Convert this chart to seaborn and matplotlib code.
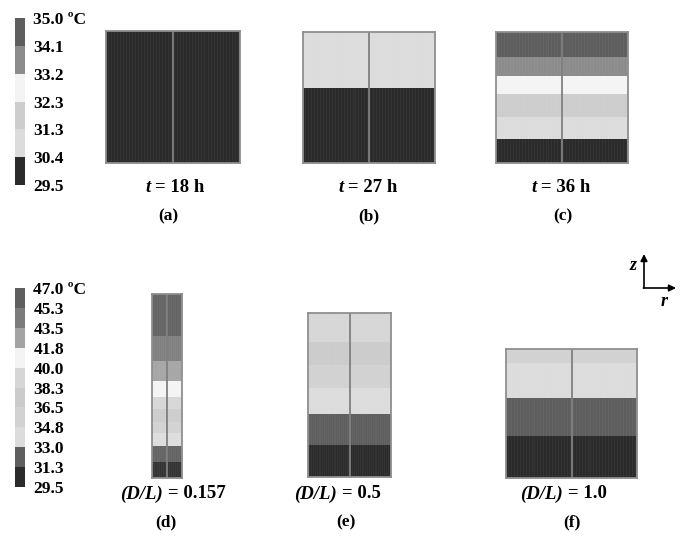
import numpy as np
import matplotlib
matplotlib.use("Agg")
import matplotlib.pyplot as plt
from matplotlib.colors import ListedColormap, BoundaryNorm
import seaborn as sns

W, H = 681, 549

# colour scale of the time series (top row), degC
top_bounds = [29.5, 30.4, 31.3, 32.3, 33.2, 34.1, 35.0]
top_colors = ["#2b2b2b", "#dcdcdc", "#cdcdcd", "#f4f4f4", "#8c8c8c", "#5e5e5e"]

# colour scale of the aspect ratio series (bottom row), degC
bot_bounds = [29.5, 31.3, 33.0, 34.8, 36.5, 38.3, 40.0, 41.8, 43.5, 45.3, 47.0]
bot_colors = ["#2b2b2b", "#5e5e5e", "#dcdcdc", "#d2d2d2", "#cbcbcb",
              "#d6d6d6", "#f4f4f4", "#a3a3a3", "#7b7b7b", "#5e5e5e"]

# zone temperatures (top -> bottom) and zone heights (relative units)
a_temp = [29.95]
a_h = [131]
b_temp = [30.85, 29.95]
b_h = [56, 75]
c_temp = [34.55, 33.65, 32.75, 31.8, 30.85, 29.95]
c_h = [25, 19, 18, 23, 22, 24]
d_temp = [46.15, 44.4, 42.65, 40.9, 39.15, 37.4, 35.65, 33.9, 32.15, 30.4]
d_h = [42, 25, 20, 16, 12, 13, 11, 13, 16, 16]
e_temp = [39.15, 37.4, 35.65, 33.9, 32.15, 30.4]
e_h = [29, 23, 23, 26, 31, 32]
f_temp = [35.65, 33.9, 32.15, 30.4]
f_h = [14, 35, 38, 42]

time_labels = ["18", "27", "36"]
ratio_labels = ["0.157", "0.5", "1.0"]
letters = ["(a)", "(b)", "(c)", "(d)", "(e)", "(f)"]

plt.rcParams["font.family"] = ["Liberation Serif", "DejaVu Serif"]
plt.rcParams["font.weight"] = "bold"


def px_axes(fig, x0, y0, x1, y1):
    """Add an axes from pixel box (top-left origin)."""
    return fig.add_axes([x0 / W, 1 - y1 / H, (x1 - x0) / W, (y1 - y0) / H])


def zone_grid(temps, heights):
    col = np.repeat(temps, heights)
    return np.column_stack([col, col])


def draw_panel(ax, temps, heights, cmap, norm, cax=None):
    grid = zone_grid(temps, heights)
    sns.heatmap(grid, ax=ax, cmap=cmap, norm=norm,
                cbar=cax is not None, cbar_ax=cax,
                xticklabels=False, yticklabels=False)
    # faint mesh texture of the FE grid
    ax.vlines(np.arange(0.03, 2, 0.045), 0, grid.shape[0],
              color="white", alpha=0.05, lw=0.6)
    ax.axvline(1, color="#808080", lw=1.3)
    for s in ax.spines.values():
        s.set_visible(True)
        s.set_color("#8f8f8f")
        s.set_linewidth(1.3)


def style_cbar(cax, bounds):
    labels = [f"{b:.1f}" for b in bounds]
    labels[-1] = labels[-1] + " ºC"
    cax.set_yticks(bounds)
    cax.set_yticklabels(labels)
    cax.tick_params(length=0, pad=6, labelsize=12.5)
    for lbl in cax.get_yticklabels():
        lbl.set_fontweight("bold")


fig = plt.figure(figsize=(W / 100, H / 100), dpi=100)
fig.patch.set_facecolor("white")

top_cmap = ListedColormap(top_colors)
top_norm = BoundaryNorm(top_bounds, top_cmap.N)
bot_cmap = ListedColormap(bot_colors)
bot_norm = BoundaryNorm(bot_bounds, bot_cmap.N)

cax_top = px_axes(fig, 15, 18, 25, 185)
cax_bot = px_axes(fig, 15, 288, 25, 487)

panels_top = [(106, 31, 240, 163), (303, 32, 435, 163), (496, 32, 628, 163)]
panels_bot = [(152, 294, 182, 478), (308, 313, 391, 477), (506, 349, 637, 478)]

top_data = [(a_temp, a_h), (b_temp, b_h), (c_temp, c_h)]
bot_data = [(d_temp, d_h), (e_temp, e_h), (f_temp, f_h)]

for i, (box, (t, h)) in enumerate(zip(panels_top, top_data)):
    ax = px_axes(fig, *box)
    draw_panel(ax, t, h, top_cmap, top_norm, cax_top if i == 0 else None)
for i, (box, (t, h)) in enumerate(zip(panels_bot, bot_data)):
    ax = px_axes(fig, *box)
    draw_panel(ax, t, h, bot_cmap, bot_norm, cax_bot if i == 0 else None)

style_cbar(cax_top, top_bounds)
style_cbar(cax_bot, bot_bounds)

# overlay in pixel coordinates for the annotations
ov = fig.add_axes([0, 0, 1, 1], facecolor="none")
ov.set_xlim(0, W)
ov.set_ylim(H, 0)
ov.axis("off")

fs = 13.5
top_centers = [176, 369, 562]
for xc, lab in zip(top_centers, time_labels):
    ov.text(xc - 25, 188, "t", style="italic", fontweight="bold",
            fontsize=fs, ha="right", va="center")
    ov.text(xc - 21, 188, f"= {lab} h", fontweight="bold",
            fontsize=fs, ha="left", va="center")

bot_splits = [163, 337, 563]
for xs, lab in zip(bot_splits, ratio_labels):
    ov.text(xs, 494, "(D/L)", style="italic", fontweight="bold",
            fontsize=fs, ha="right", va="center")
    ov.text(xs + 5, 494, f"= {lab}", fontweight="bold",
            fontsize=fs, ha="left", va="center")

letter_pos = [(168, 216), (369, 216), (563, 216),
              (166, 522), (346, 522), (572, 522)]
for (x, y), lab in zip(letter_pos, letters):
    ov.text(x, y, lab, fontweight="bold", fontsize=12.5, ha="center", va="center")

# r-z axes sketch
ov.annotate("", xy=(644, 254), xytext=(644, 288),
            arrowprops=dict(arrowstyle="-|>", color="black", lw=1.2,
                            mutation_scale=10, shrinkA=0, shrinkB=0))
ov.annotate("", xy=(676, 288), xytext=(643.4, 288),
            arrowprops=dict(arrowstyle="-|>", color="black", lw=1.2,
                            mutation_scale=10, shrinkA=0, shrinkB=0))
ov.text(633, 266, "z", style="italic", fontweight="bold", fontsize=13,
        ha="center", va="center")
ov.text(664, 302, "r", style="italic", fontweight="bold", fontsize=13,
        ha="center", va="center")

fig.savefig("out.png", dpi=100, facecolor="white")
